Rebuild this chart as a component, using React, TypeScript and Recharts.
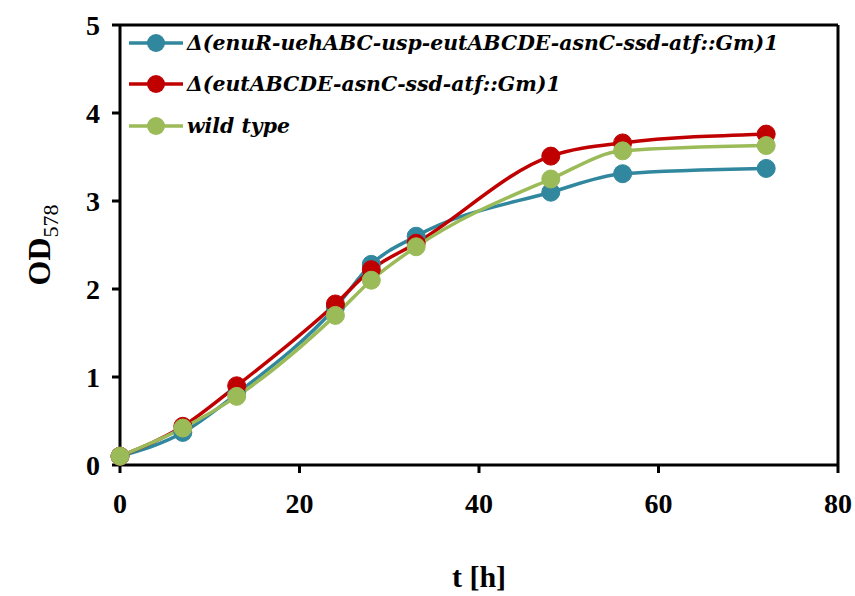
import { LineChart, Line, XAxis, YAxis, ReferenceLine } from "recharts";

const hours = [0, 7, 13, 24, 28, 33, 48, 56, 72];
const mutantLong = [0.1, 0.37, 0.81, 1.79, 2.28, 2.6, 3.1, 3.31, 3.37];
const mutantShort = [0.1, 0.44, 0.9, 1.83, 2.22, 2.52, 3.51, 3.66, 3.76];
const wildType = [0.1, 0.42, 0.78, 1.7, 2.1, 2.48, 3.25, 3.57, 3.63];
const xTicks = [0, 20, 40, 60, 80];
const yTicks = [0, 1, 2, 3, 4, 5];

const series = [
  { key: "a", name: "Δ(enuR-uehABC-usp-eutABCDE-asnC-ssd-atf::Gm)1", color: "#31879e", values: mutantLong },
  { key: "b", name: "Δ(eutABCDE-asnC-ssd-atf::Gm)1", color: "#c00000", values: mutantShort },
  { key: "c", name: "wild type", color: "#9bbb59", values: wildType },
];

const data = hours.map((t, i) => ({
  t,
  a: mutantLong[i],
  b: mutantShort[i],
  c: wildType[i],
}));

const serif = "Liberation Serif, Times New Roman, serif";
const tickFont = { fontFamily: serif, fontWeight: 700, fontSize: 28, fill: "#000" };

function LegendBox() {
  return (
    <div style={{ position: "absolute", left: 129, top: 22, display: "flex", flexDirection: "column" }}>
      {series.map((s) => (
        <div key={s.key} style={{ display: "flex", alignItems: "center", height: 41.5 }}>
          <svg width={56} height={20}>
            <line x1={0} y1={10} x2={54} y2={10} stroke={s.color} strokeWidth={3.5} />
            <circle cx={27} cy={10} r={9} fill={s.color} />
          </svg>
          <span
            style={{
              fontFamily: "DejaVu Serif, serif",
              fontStyle: "italic",
              fontWeight: 700,
              fontSize: 20.4,
              color: "#000",
              marginLeft: 2,
              whiteSpace: "nowrap",
            }}
          >
            {s.name}
          </span>
        </div>
      ))}
    </div>
  );
}

function YLabel() {
  return (
    <text transform="translate(50,245) rotate(-90)" textAnchor="middle" fill="#000" style={{ fontFamily: serif }}>
      <tspan fontSize={32} fontWeight={700}>OD</tspan>
      <tspan fontSize={22} dy={8}>578</tspan>
    </text>
  );
}

export default function App() {
  return (
    <div style={{ position: "absolute", left: 0, top: 0, width: 855, height: 596, background: "#fff" }}>
      <LineChart width={855} height={596} data={data} margin={{ top: 25, right: 17, left: 0, bottom: 0 }}>
        <XAxis
          dataKey="t"
          type="number"
          domain={[0, 80]}
          ticks={xTicks}
          tick={tickFont}
          tickSize={8}
          tickMargin={20}
          stroke="#000"
          strokeWidth={3}
          height={131}
          label={{
            value: "t [h]",
            position: "insideBottom",
            offset: 9,
            style: { fontFamily: serif, fontWeight: 700, fontSize: 30, fill: "#000" },
          }}
        />
        <YAxis
          type="number"
          domain={[0, 5]}
          ticks={yTicks}
          tick={tickFont}
          tickSize={8}
          tickMargin={12}
          stroke="#000"
          strokeWidth={3}
          width={120}
          label={<YLabel />}
        />
        <ReferenceLine y={5} stroke="#000" strokeWidth={3} />
        <ReferenceLine x={80} stroke="#000" strokeWidth={3} />
        {series.map((s) => (
          <Line
            key={s.key}
            dataKey={s.key}
            name={s.name}
            type="monotone"
            stroke={s.color}
            strokeWidth={3.5}
            dot={{ r: 9, fill: s.color, stroke: s.color, strokeWidth: 1 }}
            activeDot={false}
            isAnimationActive={false}
          />
        ))}
      </LineChart>
      <LegendBox />
    </div>
  );
}
